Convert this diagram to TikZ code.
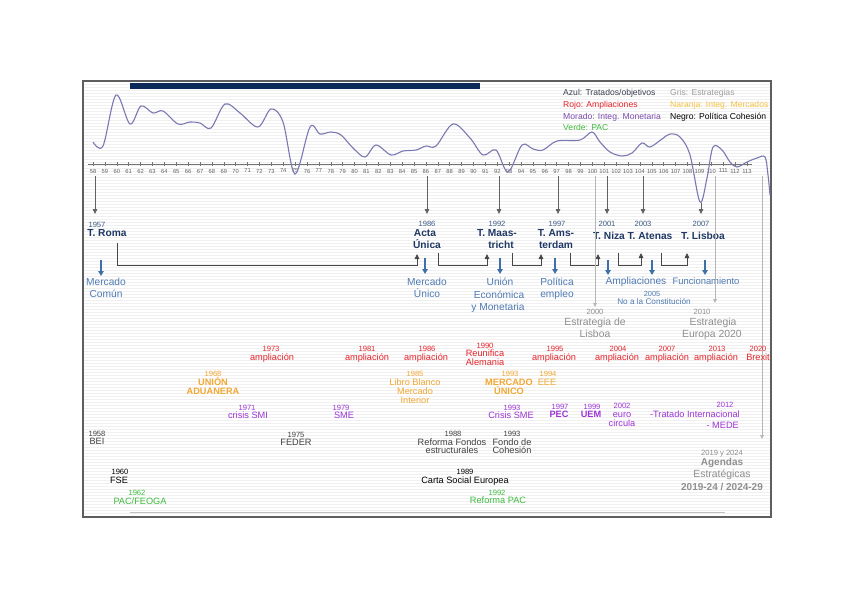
\documentclass[tikz,border=0pt]{standalone}
\usepackage{fontspec}
\setmainfont{Liberation Sans}
\usetikzlibrary{arrows.meta}
\definecolor{barnavy}{HTML}{0C2A57}
\definecolor{trblue}{HTML}{1F3864}
\definecolor{tyblue}{HTML}{3C5A82}
\definecolor{objblue}{HTML}{4F7AB2}
\definecolor{arrblue}{HTML}{3F6FA8}
\definecolor{stgray}{HTML}{8E8E8E}
\definecolor{stline}{HTML}{B5B5B5}
\definecolor{rojo}{HTML}{E32228}
\definecolor{naranja}{HTML}{F2A731}
\definecolor{naranjalg}{HTML}{F5C342}
\definecolor{morado}{HTML}{9C33D6}
\definecolor{moradolg}{HTML}{7B4BAE}
\definecolor{verde}{HTML}{3DBB3D}
\definecolor{cohgray}{HTML}{3F3F3F}
\definecolor{curvec}{HTML}{7A78B2}
\definecolor{framec}{HTML}{5E5E5E}
\definecolor{conngray}{HTML}{474747}
\definecolor{azullg}{HTML}{3A3F4F}
\newcommand{\putlbl}[5][]{\node[lbl,#1] (#2) at (#3,#4) {#5};}
\begin{document}
\begin{tikzpicture}[x=1pt,y=-1pt,
  lbl/.style={inner sep=0pt, anchor=mid},
  yr/.style={font=\fontsize{7.6}{8}\selectfont},
  wd/.style={font=\fontsize{9.2}{10}\selectfont},
  wdb/.style={font=\bfseries\fontsize{9.2}{10}\selectfont},
  lg/.style={anchor=mid west, font=\fontsize{8.6}{9}\selectfont},
  tr/.style={font=\bfseries\fontsize{10.2}{11}\selectfont, text=trblue},
  ty/.style={font=\fontsize{7.6}{8}\selectfont, text=tyblue},
  ob/.style={font=\fontsize{10.2}{11}\selectfont, text=objblue},
  st/.style={font=\fontsize{10.4}{11}\selectfont, text=stgray},
  stb/.style={font=\bfseries\fontsize{10}{11}\selectfont, text=stgray},
  sty/.style={font=\fontsize{7.6}{8}\selectfont, text=stgray},
  rY/.style={yr,text=rojo}, rW/.style={wd,text=rojo},
  oY/.style={yr,text=naranja}, oW/.style={wd,text=naranja}, oB/.style={wdb,text=naranja},
  pY/.style={yr,text=morado}, pW/.style={wd,text=morado}, pB/.style={wdb,text=morado},
  gY/.style={yr,text=cohgray}, gW/.style={wd,text=cohgray},
  kY/.style={yr,text=black}, kW/.style={wd,text=black},
  vY/.style={yr,text=verde}, vW/.style={wd,text=verde},
  tl/.style={inner sep=0pt, font=\fontsize{5.8}{6}\selectfont, text=black!62},
  stripe/.style={draw=black!6, line width=0.5pt},
  tarr/.style={draw=black!62, line width=0.8pt, -{Triangle[length=5pt,width=4.5pt]}},
  sarr/.style={draw=stline, line width=0.8pt, -{Triangle[length=4pt,width=3.5pt]}},
  barr/.style={draw=arrblue, line width=1.7pt, -{Triangle[length=5pt,width=5.5pt]}},
  conn/.style={draw=conngray, line width=0.9pt, -{Triangle[length=5pt,width=4.5pt]}}
]
\useasboundingbox (0,0) rectangle (848,600);
% background stripes
\foreach \yy in {84,87,...,514} \draw[stripe] (84,\yy) -- (770,\yy);
% frame and bar
\draw[framec, line width=1.4pt] (83,81) rectangle (771,517);
\fill[barnavy] (130,83) rectangle (480,88.5);
\draw[black!25, line width=0.8pt] (130,512.5) -- (725,512.5);
% axis
\coordinate (axL) at (88,164);
\coordinate (axR) at (752,164);
\draw[black!55, line width=0.6pt] (axL) -- (axR);
\foreach \i in {58,...,113}{
  \pgfmathsetmacro\xx{93+(\i-58)*11.89}
  \draw[black!55, line width=0.5pt] (\xx,162) -- (\xx,166);
  \node[tl] (t\i) at (\xx,171) {\i};
}
% curve
\draw[curvec, line width=1.1pt] plot[smooth, tension=0.55] coordinates {
 (93,142) (103,146) (116,95) (130,124) (141,106) (153,113) (163,111) (178,124)
 (190,122) (200,123) (211,128) (225,104) (240,113) (258,127) (271,109) (283,122)
 (295,174) (310,127) (320,134) (331,132) (341,135) (353,148) (365,157) (376,145)
 (391,155) (403,151) (416,150) (426,146) (436,146) (453,124) (470,138) (483,155)
 (496,150) (508,172) (522,145) (533,149) (543,150) (557,141) (580,140) (592,132)
 (600,142) (610,152) (622,156) (632,153) (642,143) (650,147) (662,139) (670,134)
 (680,137) (690,155) (700,202) (707,178) (713,147) (722,150) (730,162) (737,167)
 (747,162) (757,158) (765,157) (768,175) (770,195)};
% legend
\putlbl[lg,text=azullg]{lgA}{563}{92.5}{Azul: Tratados/objetivos}
\putlbl[lg,text=black!38]{lgG}{670}{92.5}{Gris: Estrategias}
\putlbl[lg,text=rojo]{lgR}{563}{104.5}{Rojo: Ampliaciones}
\putlbl[lg,text=naranjalg]{lgN}{670}{104.5}{Naranja: Integ. Mercados}
\putlbl[lg,text=moradolg]{lgM}{563}{116.5}{Morado: Integ. Monetaria}
\putlbl[lg,text=black]{lgK}{670}{116.5}{Negro: Política Cohesión}
\putlbl[lg,text=verde]{lgV}{563}{127.5}{Verde: PAC}
% treaty arrows from axis
\foreach \n/\x/\ya in {57/95/176, 86/427/176, 92/499/176, 97/558/176, 01/607/176, 03/643/176, 07/701/203}{
  \coordinate (ta\n) at (\x,\ya);
  \coordinate (tb\n) at (\x,214);
  \draw[tarr] (ta\n) -- (tb\n);
}
% treaties
\putlbl[ty]{roY}{97}{225}{1957}
\putlbl[tr]{ro}{107}{234}{T. Roma}
\putlbl[ty]{acY}{427}{224}{1986}
\putlbl[tr]{ac1}{425}{234}{Acta}
\putlbl[tr]{ac2}{427}{246}{Única}
\putlbl[ty]{maY}{497}{224}{1992}
\putlbl[tr]{ma1}{497}{234}{T. Maas-}
\putlbl[tr]{ma2}{501}{246}{tricht}
\putlbl[ty]{amY}{557}{224}{1997}
\putlbl[tr]{am1}{556}{234}{T. Ams-}
\putlbl[tr]{am2}{556}{246}{terdam}
\putlbl[ty]{niY}{607}{224}{2001}
\putlbl[tr]{ni}{609}{237}{T. Niza}
\putlbl[ty]{atY}{643}{224}{2003}
\putlbl[tr]{at}{650}{237}{T. Atenas}
\putlbl[ty]{liY}{701}{224}{2007}
\putlbl[tr]{li}{703}{237}{T. Lisboa}
% elbow connectors between treaties
\coordinate (k1a) at (117,243); \coordinate (k1b) at (417,254);
\coordinate (k2a) at (438,253); \coordinate (k2b) at (487,254);
\coordinate (k3a) at (512,253); \coordinate (k3b) at (541,254);
\coordinate (k4a) at (570,253); \coordinate (k4b) at (598,254);
\coordinate (k5a) at (618,253); \coordinate (k5b) at (641,253);
\coordinate (k6a) at (661,253); \coordinate (k6b) at (687,253);
\draw[conn] (k1a) -- ++(0,22.5) -| (k1b);
\draw[conn] (k2a) -- ++(0,12.5) -| (k2b);
\draw[conn] (k3a) -- ++(0,12.5) -| (k3b);
\draw[conn] (k4a) -- ++(0,12) -| (k4b);
\draw[conn] (k5a) -- ++(0,12) -| (k5b);
\draw[conn] (k6a) -- ++(0,12) -| (k6b);
% blue objective arrows
\foreach \n/\x/\ya/\yb in {1/101/260/276, 2/425/258/274, 3/500/258/274, 4/555/258/274, 5/608/260/275, 6/652/260/275, 7/705/260/275}{
  \coordinate (ba\n) at (\x,\ya);
  \coordinate (bb\n) at (\x,\yb);
  \draw[barr] (ba\n) -- (bb\n);
}
% objectives
\putlbl[ob]{o1a}{106}{283}{Mercado}
\putlbl[ob]{o1b}{106}{295}{Común}
\putlbl[ob]{o2a}{427}{283}{Mercado}
\putlbl[ob]{o2b}{427}{295}{Único}
\putlbl[ob]{o3a}{500}{283}{Unión}
\putlbl[ob]{o3b}{499}{296}{Económica}
\putlbl[ob]{o3c}{498}{308}{y Monetaria}
\putlbl[ob]{o4a}{557}{283}{Política}
\putlbl[ob]{o4b}{557}{295}{empleo}
\putlbl[ob]{o5}{636}{282}{Ampliaciones}
\putlbl[ob,font=\fontsize{7.4}{8}\selectfont]{o6a}{652}{294}{2005}
\putlbl[ob,font=\fontsize{8.2}{9}\selectfont]{o6b}{654}{302}{No a la Constitución}
\putlbl[ob,font=\fontsize{9.4}{10}\selectfont]{o7}{706}{282}{Funcionamiento}
% strategies
\coordinate (sa1) at (595,176); \coordinate (sb1) at (595,307);
\coordinate (sa2) at (715,176); \coordinate (sb2) at (715,303);
\coordinate (sa3) at (762,176); \coordinate (sb3) at (762,439);
\draw[sarr] (sa1) -- (sb1);
\draw[sarr] (sa2) -- (sb2);
\draw[sarr] (sa3) -- (sb3);
\putlbl[sty]{s1y}{595}{312}{2000}
\putlbl[st]{s1a}{595}{323}{Estrategia de}
\putlbl[st]{s1b}{595}{335}{Lisboa}
\putlbl[sty]{s2y}{702}{312}{2010}
\putlbl[st]{s2a}{713}{323}{Estrategia}
\putlbl[st]{s2b}{712}{335}{Europa 2020}
\putlbl[sty]{s3y}{722}{453}{2019 y 2024}
\putlbl[stb]{s3a}{722}{463}{Agendas}
\putlbl[st]{s3b}{722}{475}{Estratégicas}
\putlbl[stb]{s3c}{722}{488}{2019-24 / 2024-29}
% red: ampliaciones
\putlbl[rY]{r1y}{271}{349}{1973}
\putlbl[rW]{r1}{272}{357.5}{ampliación}
\putlbl[rY]{r2y}{367}{349}{1981}
\putlbl[rW]{r2}{367}{357.5}{ampliación}
\putlbl[rY]{r3y}{427}{349}{1986}
\putlbl[rW]{r3}{426}{357.5}{ampliación}
\putlbl[rY]{r4y}{485}{345.5}{1990}
\putlbl[rW]{r4a}{485}{354}{Reunifica}
\putlbl[rW]{r4b}{485}{362.5}{Alemania}
\putlbl[rY]{r5y}{555}{349}{1995}
\putlbl[rW]{r5}{554}{357.5}{ampliación}
\putlbl[rY]{r6y}{618}{349}{2004}
\putlbl[rW]{r6}{617}{357.5}{ampliación}
\putlbl[rY]{r7y}{667}{349}{2007}
\putlbl[rW]{r7}{667}{357.5}{ampliación}
\putlbl[rY]{r8y}{717}{349}{2013}
\putlbl[rW]{r8}{716}{357.5}{ampliación}
\putlbl[rY]{r9y}{758}{349}{2020}
\putlbl[rW]{r9}{758}{357.5}{Brexit}
% orange: integracion mercados
\putlbl[oY]{n1y}{213}{373.5}{1968}
\putlbl[oB]{n1a}{213}{383}{UNIÓN}
\putlbl[oB]{n1b}{213}{391.5}{ADUANERA}
\putlbl[oY]{n2y}{415}{374}{1985}
\putlbl[oW]{n2a}{415}{383}{Libro Blanco}
\putlbl[oW]{n2b}{415}{391.5}{Mercado}
\putlbl[oW]{n2c}{415}{400.5}{Interior}
\putlbl[oY]{n3y}{510}{374}{1993}
\putlbl[oB]{n3a}{509}{383}{MERCADO}
\putlbl[oB]{n3b}{509}{391.5}{ÚNICO}
\putlbl[oY]{n4y}{548}{374}{1994}
\putlbl[oW]{n4a}{547}{383}{EEE}
% purple: integracion monetaria
\putlbl[pY]{m1y}{247}{408}{1971}
\putlbl[pW]{m1}{248}{416}{crisis SMI}
\putlbl[pY]{m2y}{341}{408}{1979}
\putlbl[pW]{m2}{344}{416}{SME}
\putlbl[pY]{m3y}{512}{408}{1993}
\putlbl[pW]{m3}{511}{416}{Crisis SME}
\putlbl[pY]{m4y}{560}{407}{1997}
\putlbl[pB]{m4}{559}{415}{PEC}
\putlbl[pY]{m5y}{592}{407}{1999}
\putlbl[pB]{m5}{591}{415}{UEM}
\putlbl[pY]{m6y}{622}{406}{2002}
\putlbl[pW]{m6a}{622}{415}{euro}
\putlbl[pW]{m6b}{622}{423.5}{circula}
\putlbl[pY]{m7y}{725}{405}{2012}
\putlbl[pW,anchor=mid east]{m7a}{740}{415}{-Tratado Internacional}
\putlbl[pW,anchor=mid east]{m7b}{739}{426}{- MEDE}
% cohesion
\putlbl[gY]{c1y}{97}{434}{1958}
\putlbl[gW]{c1}{97}{442}{BEI}
\putlbl[gY]{c2y}{296}{435}{1975}
\putlbl[gW]{c2}{296}{443}{FEDER}
\putlbl[gY]{c3y}{453}{434}{1988}
\putlbl[gW]{c3a}{452}{442.5}{Reforma Fondos}
\putlbl[gW]{c3b}{452}{451}{estructurales}
\putlbl[gY]{c4y}{512}{434}{1993}
\putlbl[gW]{c4a}{512}{442.5}{Fondo de}
\putlbl[gW]{c4b}{512}{451}{Cohesión}
\putlbl[kY]{c5y}{120}{472}{1960}
\putlbl[kW]{c5}{119}{481}{FSE}
\putlbl[kY]{c6y}{465}{472}{1989}
\putlbl[kW]{c6}{465}{481}{Carta Social Europea}
% green: PAC
\putlbl[vY]{v1y}{137}{493}{1962}
\putlbl[vW]{v1}{140}{502}{PAC/FEOGA}
\putlbl[vY]{v2y}{497}{493}{1992}
\putlbl[vW]{v2}{498}{501}{Reforma PAC}
\end{tikzpicture}
\end{document}
